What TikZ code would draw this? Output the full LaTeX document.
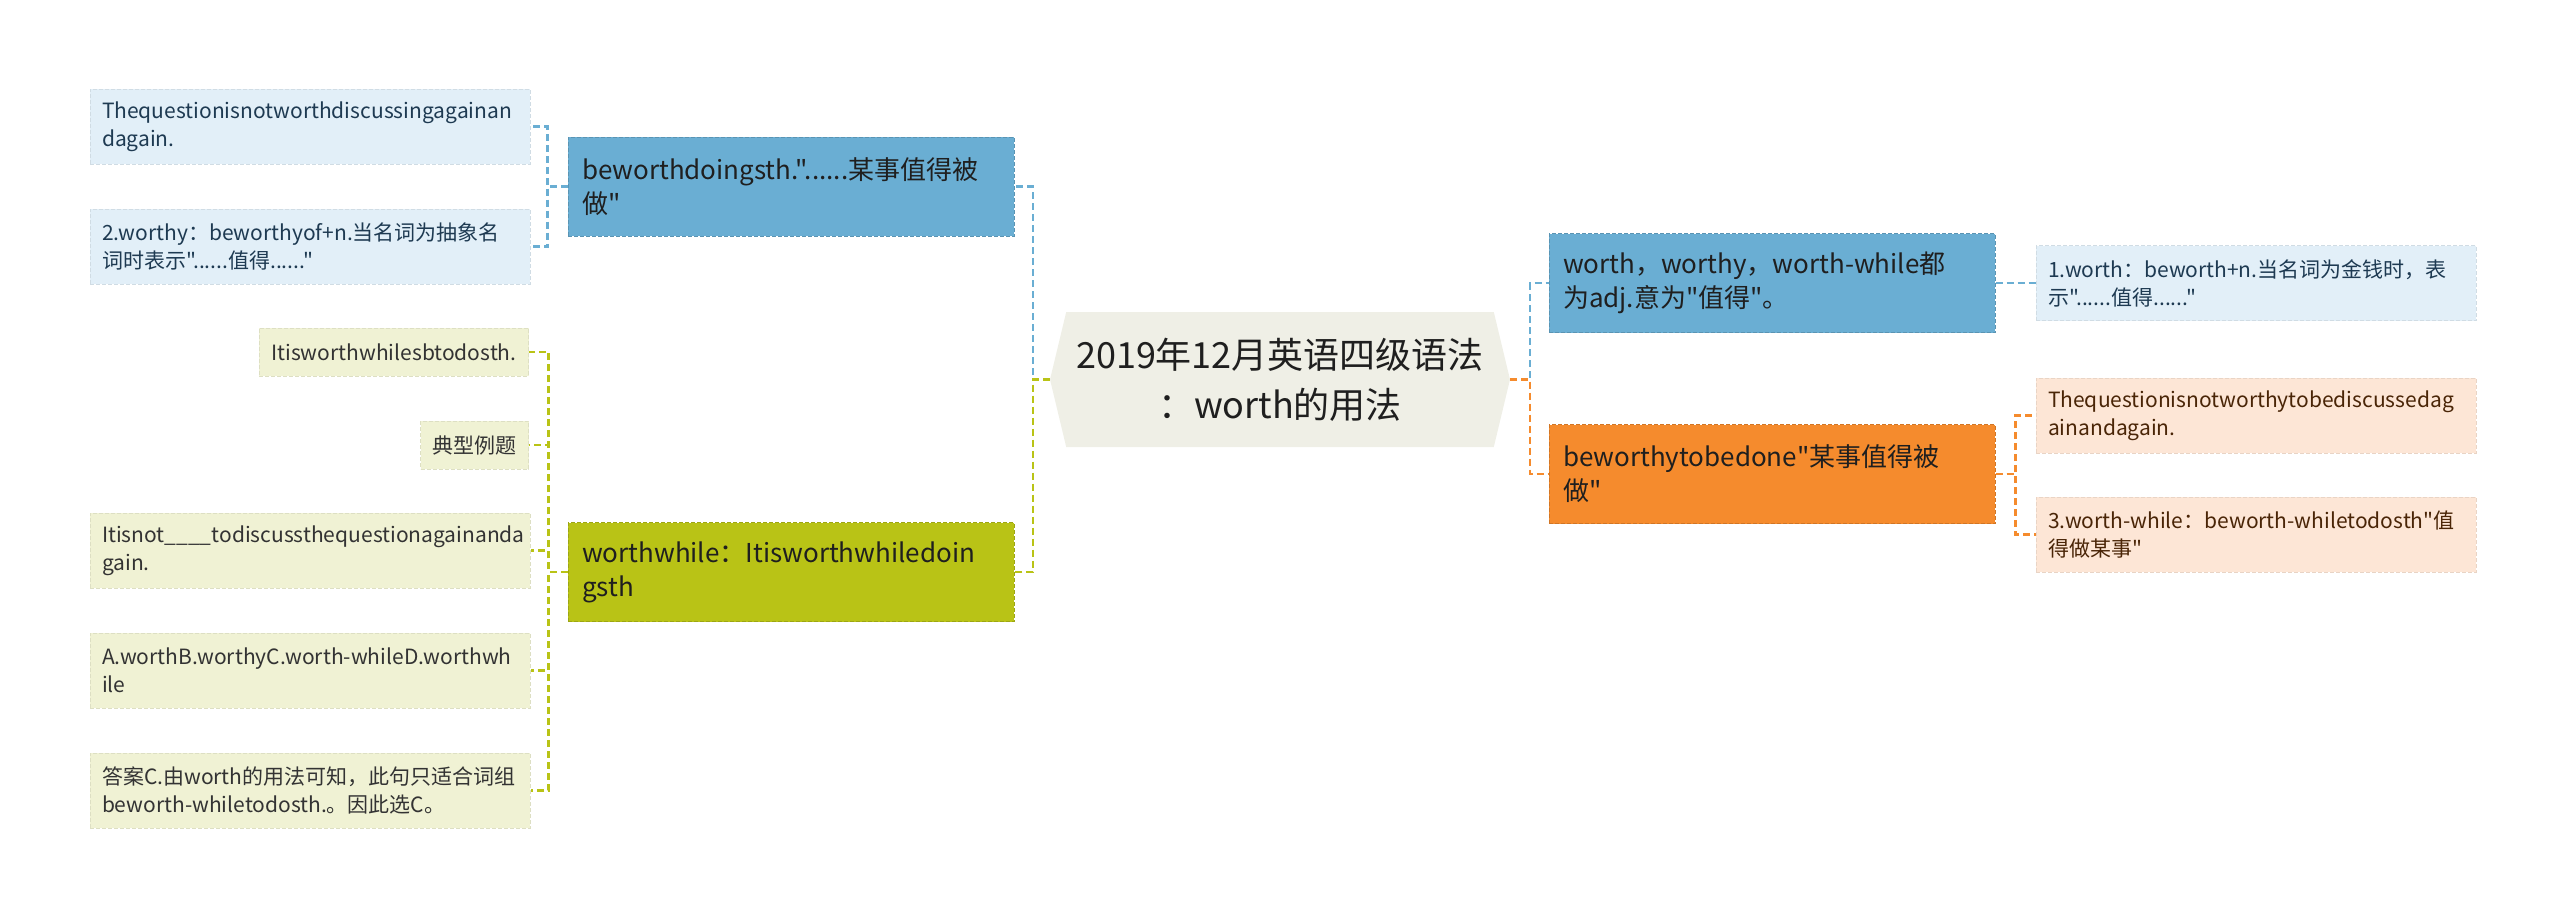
\documentclass[tikz,border=0pt]{standalone}
\usepackage{fontspec}
\newfontfamily\yahei{Noto Sans CJK SC}
\usetikzlibrary{shapes.symbols}

\definecolor{bluemain}{HTML}{6AAED3}
\definecolor{bluelite}{HTML}{E2EFF8}
\definecolor{bluetext}{HTML}{1E3A52}
\definecolor{greenmain}{HTML}{B9C316}
\definecolor{greenlite}{HTML}{F0F2D4}
\definecolor{greentext}{HTML}{333333}
\definecolor{orangemain}{HTML}{F58B2D}
\definecolor{orangelite}{HTML}{FDE6D6}
\definecolor{orangetext}{HTML}{4A2507}
\definecolor{rootfill}{HTML}{EFEFE6}

\tikzset{
  branch/.style={rectangle, fill=#1, draw=#1!85!black, dash pattern=on 4pt off 2pt, line width=1pt,
    text width=418pt, inner xsep=14pt, minimum height=99pt, align=left, text=black!88,
    font=\yahei\fontsize{26}{34}\selectfont},
  leaf/.style={rectangle, fill=#1, draw=#1!92!black, dash pattern=on 4pt off 2pt, line width=1pt,
    inner xsep=12pt, minimum height=75pt, align=left, font=\yahei\fontsize{21}{28}\selectfont},
  wideleaf/.style={leaf=#1, text width=416pt},
  shortleaf/.style={leaf=#1, minimum height=48pt, anchor=east},
  link/.style={draw=#1, line width=2.5pt, dash pattern=on 7pt off 4pt}
}

\begin{document}
\begin{tikzpicture}[x=1pt,y=-1pt]
      % Bounding box
      \useasboundingbox (0,0) rectangle (2560,918);

      \node[signal, signal to=west and east, signal pointer angle=153, fill=rootfill,
        minimum width=460pt, minimum height=135pt, align=center, text=black!88,
        font=\yahei\fontsize{36}{50}\selectfont] (root) at (1280,379.5)
        {2019年12月英语四级语法\\：worth的用法};

      % left, blue
      \node[branch=bluemain] (doing) at (791,186.5) {\mbox{beworthdoingsth."......某事值得被}\\做"};
      \node[wideleaf=bluelite, text=bluetext] (ex1) at (310,126.5) {\mbox{Thequestionisnotworthdiscussingagainan}\\dagain.};
      \node[wideleaf=bluelite, text=bluetext] (worthy) at (310,246.5) {\mbox{2.worthy：beworthyof+n.当名词为抽象名}\\词时表示"......值得......"};

      % left, green
      \node[branch=greenmain] (while) at (791,572) {\mbox{worthwhile：Itisworthwhiledoin}\\gsth};
      \node[shortleaf=greenlite, text=greentext] (g1) at (529,352) {Itisworthwhilesbtodosth.};
      \node[shortleaf=greenlite, text=greentext] (g2) at (529,445) {典型例题};
      \node[wideleaf=greenlite, text=greentext] (g3) at (310,550.5) {\mbox{Itisnot\_\_\_\_todiscussthequestionagainanda}\\gain.};
      \node[wideleaf=greenlite, text=greentext] (g4) at (310,670.5) {\mbox{A.worthB.worthyC.worth-whileD.worthwh}\\ile};
      \node[wideleaf=greenlite, text=greentext] (g5) at (310,790.5) {\mbox{答案C.由worth的用法可知，此句只适合词组}\\beworth-whiletodosth.。因此选C。};

      % right
      \node[branch=bluemain] (adj) at (1772,283) {\mbox{worth，worthy，worth-while都}\\为adj.意为"值得"。};
      \node[wideleaf=bluelite, text=bluetext] (money) at (2256,283) {\mbox{1.worth：beworth+n.当名词为金钱时，表}\\示"......值得......"};
      \node[branch=orangemain] (tobe) at (1772,474) {\mbox{beworthytobedone"某事值得被}\\做"};
      \node[wideleaf=orangelite, text=orangetext] (ex2) at (2256,415.5) {\mbox{Thequestionisnotworthytobediscussedag}\\ainandagain.};
      \node[wideleaf=orangelite, text=orangetext] (wwhile) at (2256,534.5) {\mbox{3.worth-while：beworth-whiletodosth"值}\\得做某事"};

      \draw[link=bluemain] (root.west) -- ++(-17,0) |- (doing.east);
      \draw[link=greenmain] (root.west) -- ++(-17,0) |- (while.east);
      \draw[link=bluemain] (root.east) -- ++(20,0) |- (adj.west);
      \draw[link=orangemain] (root.east) -- ++(20,0) |- (tobe.west);

      \draw[link=bluemain] (doing.west) -- ++(-20,0) |- (ex1.east);
      \draw[link=bluemain] (doing.west) -- ++(-20,0) |- (worthy.east);
      \foreach \n in {g1,g2,g3,g4,g5}
        \draw[link=greenmain] (while.west) -- ++(-19,0) |- (\n.east);
      \draw[link=bluemain] (adj.east) -- (money.west);
      \draw[link=orangemain] (tobe.east) -- ++(20,0) |- (ex2.west);
      \draw[link=orangemain] (tobe.east) -- ++(20,0) |- (wwhile.west);
\end{tikzpicture}
\end{document}
